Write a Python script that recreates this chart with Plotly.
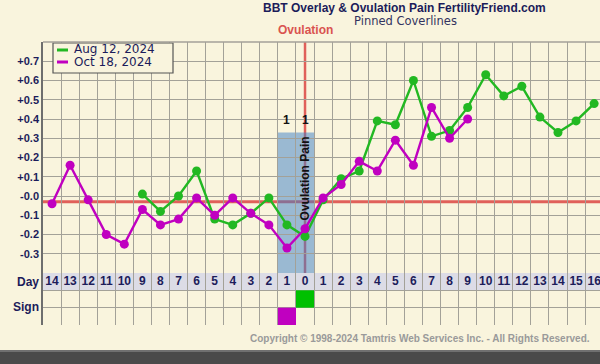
import plotly.graph_objects as go

# ---------------- data ----------------
day_positions = list(range(-14, 17))
day_labels = [str(abs(d)) for d in day_positions]

series_names = ["Aug 12, 2024", "Oct 18, 2024"]
series_colors = ["#22B822", "#C000C0"]

aug_days = list(range(-9, 17))
aug_temps = [0.01, -0.08, 0.00, 0.13, -0.12, -0.15, -0.09, -0.01, -0.15,
             -0.21, -0.02, 0.09, 0.13, 0.39, 0.37, 0.60, 0.31, 0.34, 0.46,
             0.63, 0.52, 0.57, 0.41, 0.33, 0.39, 0.48]

oct_days = list(range(-14, 10))
oct_temps = [-0.04, 0.16, -0.02, -0.20, -0.25, -0.07, -0.15, -0.12, -0.01,
             -0.10, -0.01, -0.09, -0.15, -0.27, -0.17, -0.01, 0.06, 0.18,
             0.13, 0.29, 0.16, 0.46, 0.30, 0.40]

coverline = -0.03
ovulation_day = 0

pain_days = [-1, 0]
pain_counts = [1, 1]
pain_top = 0.33
pain_label = "Ovulation Pain"

sign_days = [0, -1]     # Aug sign on day 0, Oct sign on day -1
sign_rows = [1, 0]      # table row index (row 1 = upper sign row)

y_ticks = [0.7, 0.6, 0.5, 0.4, 0.3, 0.2, 0.1, 0.0, -0.1, -0.2, -0.3]
y_ticktext = ["+0.7", "+0.6", "+0.5", "+0.4", "+0.3", "+0.2", "+0.1",
              "-0.0", "-0.1", "-0.2", "-0.3"]

title = "BBT Overlay & Ovulation Pain FertilityFriend.com"
subtitle = "Pinned Coverlines"
copyright_text = "Copyright © 1998-2024 Tamtris Web Services Inc. - All Rights Reserved."

# ---------------- styling ----------------
BG = "#F9F4DD"
GRID = "#A3A198"
NAVY = "#1C1C5A"
FONT = "DejaVu Sans"
BFONT = "Liberation Sans"

W, H = 600, 364
ML, MR, MT, MB = 43, 0, 42, 39
PW, PH = W - ML - MR, H - MT - MB
col_px = 18.07
x_lo = -14.5
x_hi = x_lo + PW / col_px
temp_bottom_px = 273
split = (H - MB - temp_bottom_px) / PH


def px_x(px):
    return (px - ML) / PW


def px_y(py):
    return (H - MB - py) / PH


fig = go.Figure()

for days, temps, name, color in [(aug_days, aug_temps, series_names[0], series_colors[0]),
                                 (oct_days, oct_temps, series_names[1], series_colors[1])]:
    fig.add_trace(go.Scatter(
        x=days, y=temps, mode="lines+markers", name=name,
        line=dict(color=color, width=2.4),
        marker=dict(color=color, size=9),
        showlegend=False, xaxis="x", yaxis="y", cliponaxis=True))

# day labels in table
fig.add_trace(go.Scatter(
    x=day_positions, y=[2.5] * len(day_positions), mode="text",
    text=day_labels, textfont=dict(family=BFONT, size=12, color=NAVY, weight="bold"),
    showlegend=False, xaxis="x2", yaxis="y2", hoverinfo="skip"))

shapes = []
# day row background
shapes.append(dict(type="rect", xref="x2", yref="y2", x0=x_lo, x1=x_hi, y0=2, y1=3,
                   fillcolor="#DCDCE6", line=dict(width=0), layer="below"))
# coverline
shapes.append(dict(type="line", xref="x", yref="y", x0=x_lo, x1=x_hi,
                   y0=coverline, y1=coverline,
                   line=dict(color="#E0605A", width=3), layer="below"))
# ovulation vertical line
shapes.append(dict(type="line", xref="x", yref="y", x0=ovulation_day, x1=ovulation_day,
                   y0=-0.4, y1=0.8, line=dict(color="#E0605A", width=2.5), layer="below"))
# pain band
for d in pain_days:
    shapes.append(dict(type="rect", xref="x", yref="y", x0=d - 0.5, x1=d + 0.5,
                       y0=-0.4, y1=pain_top, fillcolor="rgba(60,125,200,0.5)",
                       line=dict(width=0), layer="below"))
# sign cells
for d, r, c in zip(sign_days, sign_rows, ["#00C000", "#C000C0"]):
    shapes.append(dict(type="rect", xref="x2", yref="y2", x0=d - 0.5, x1=d + 0.5,
                       y0=r, y1=r + 1, fillcolor=c, line=dict(width=0), layer="above"))
# legend box
lx0, lx1, ly0, ly1 = 53, 173, 43, 73
shapes.append(dict(type="rect", xref="paper", yref="paper",
                   x0=px_x(lx0), x1=px_x(lx1), y0=px_y(ly1), y1=px_y(ly0),
                   fillcolor=BG, line=dict(color="#555555", width=1.2), layer="above"))
# bottom dark band
shapes.append(dict(type="rect", xref="paper", yref="paper",
                   x0=px_x(0), x1=px_x(W), y0=px_y(H), y1=px_y(350),
                   fillcolor="#4a4a4a", line=dict(width=0), layer="above"))
shapes.append(dict(type="rect", xref="paper", yref="paper",
                   x0=px_x(0), x1=px_x(W), y0=px_y(352), y1=px_y(350),
                   fillcolor="#707070", line=dict(width=0), layer="above"))

annotations = []
# legend entries
for i, (name, color) in enumerate(zip(series_names, series_colors)):
    yy = 50 + i * 12
    shapes.append(dict(type="line", xref="paper", yref="paper",
                       x0=px_x(57), x1=px_x(68), y0=px_y(yy), y1=px_y(yy),
                       line=dict(color=color, width=3), layer="above"))
    annotations.append(dict(xref="paper", yref="paper", x=px_x(72), y=px_y(yy - 0.5),
                            text=name, showarrow=False, xanchor="left", yanchor="middle",
                            font=dict(family=FONT, size=12, color=NAVY)))

annotations += [
    dict(xref="paper", yref="paper", x=px_x(404), y=px_y(7.5), text=title,
         showarrow=False, xanchor="center", yanchor="middle", borderpad=0,
         font=dict(family=BFONT, size=12, color=NAVY, weight="bold")),
    dict(xref="paper", yref="paper", x=px_x(405), y=px_y(21.5), text=subtitle,
         showarrow=False, xanchor="center", yanchor="middle", borderpad=0,
         font=dict(family=FONT, size=11.5, color="#33335F")),
    dict(xref="x", yref="paper", x=ovulation_day, y=px_y(30), text="Ovulation",
         showarrow=False, xanchor="center", yanchor="middle",
         font=dict(family=BFONT, size=12, color="#D9534F", weight="bold")),
    dict(xref="paper", yref="paper", x=px_x(420), y=px_y(338), text=copyright_text,
         showarrow=False, xanchor="center", yanchor="middle",
         font=dict(family=BFONT, size=10, color="#9A9A9A", weight="bold")),
    dict(xref="paper", yref="paper", x=px_x(41), y=px_y(282), text="Day",
         showarrow=False, xanchor="right", yanchor="middle",
         font=dict(family=BFONT, size=12, color=NAVY, weight="bold")),
    dict(xref="paper", yref="paper", x=px_x(41), y=px_y(307), text="Sign",
         showarrow=False, xanchor="right", yanchor="middle",
         font=dict(family=BFONT, size=12, color=NAVY, weight="bold")),
    dict(xref="x", yref="y", x=ovulation_day, y=pain_top - 0.01, text=pain_label,
         textangle=-90, showarrow=False, xanchor="center", yanchor="top",
         font=dict(family=BFONT, size=12, color="#111111", weight="bold")),
]
for d, c in zip(pain_days, pain_counts):
    annotations.append(dict(xref="x", yref="y", x=d, y=pain_top + 0.065, text=str(c),
                            showarrow=False, xanchor="center", yanchor="middle",
                            font=dict(family=BFONT, size=12, color="#111111", weight="bold")))

grid_x = [x_lo + k for k in range(0, 32)]

fig.update_layout(
    width=W, height=H, margin=dict(l=ML, r=MR, t=MT, b=MB),
    paper_bgcolor=BG, plot_bgcolor=BG, showlegend=False,
    xaxis=dict(domain=[0, 1], range=[x_lo, x_hi], anchor="y",
               tickmode="array", tickvals=grid_x, showticklabels=False, ticks="",
               showgrid=True, gridcolor=GRID, gridwidth=1, zeroline=False,
               showline=False, fixedrange=True),
    yaxis=dict(domain=[split, 1], range=[-0.4, 0.8], anchor="x",
               tickmode="array", tickvals=y_ticks, ticktext=y_ticktext, ticks="",
               tickfont=dict(family=BFONT, size=11, color=NAVY, weight="bold"),
               showgrid=True, gridcolor=GRID, gridwidth=1, zeroline=False,
               showline=True, linecolor="#6E6E6E", linewidth=1.5, mirror=False),
    xaxis2=dict(domain=[0, 1], range=[x_lo, x_hi], anchor="y2",
                tickmode="array", tickvals=grid_x, showticklabels=False, ticks="",
                showgrid=True, gridcolor=GRID, gridwidth=1, zeroline=False),
    yaxis2=dict(domain=[0, split], range=[0, 3], anchor="x2",
                tickmode="array", tickvals=[0, 1, 2, 3], showticklabels=False, ticks="",
                showgrid=True, gridcolor=GRID, gridwidth=1, zeroline=False,
                showline=True, linecolor="#6E6E6E", linewidth=1.5),
    shapes=shapes, annotations=annotations,
)
# top border of plot
fig.add_shape(type="line", xref="paper", yref="paper", x0=0, x1=1, y0=1, y1=1,
              line=dict(color=GRID, width=1.5))

fig.write_html("out.html", config={"displayModeBar": False},
               post_script="document.body.style.margin='0';document.body.style.overflow='hidden';")
